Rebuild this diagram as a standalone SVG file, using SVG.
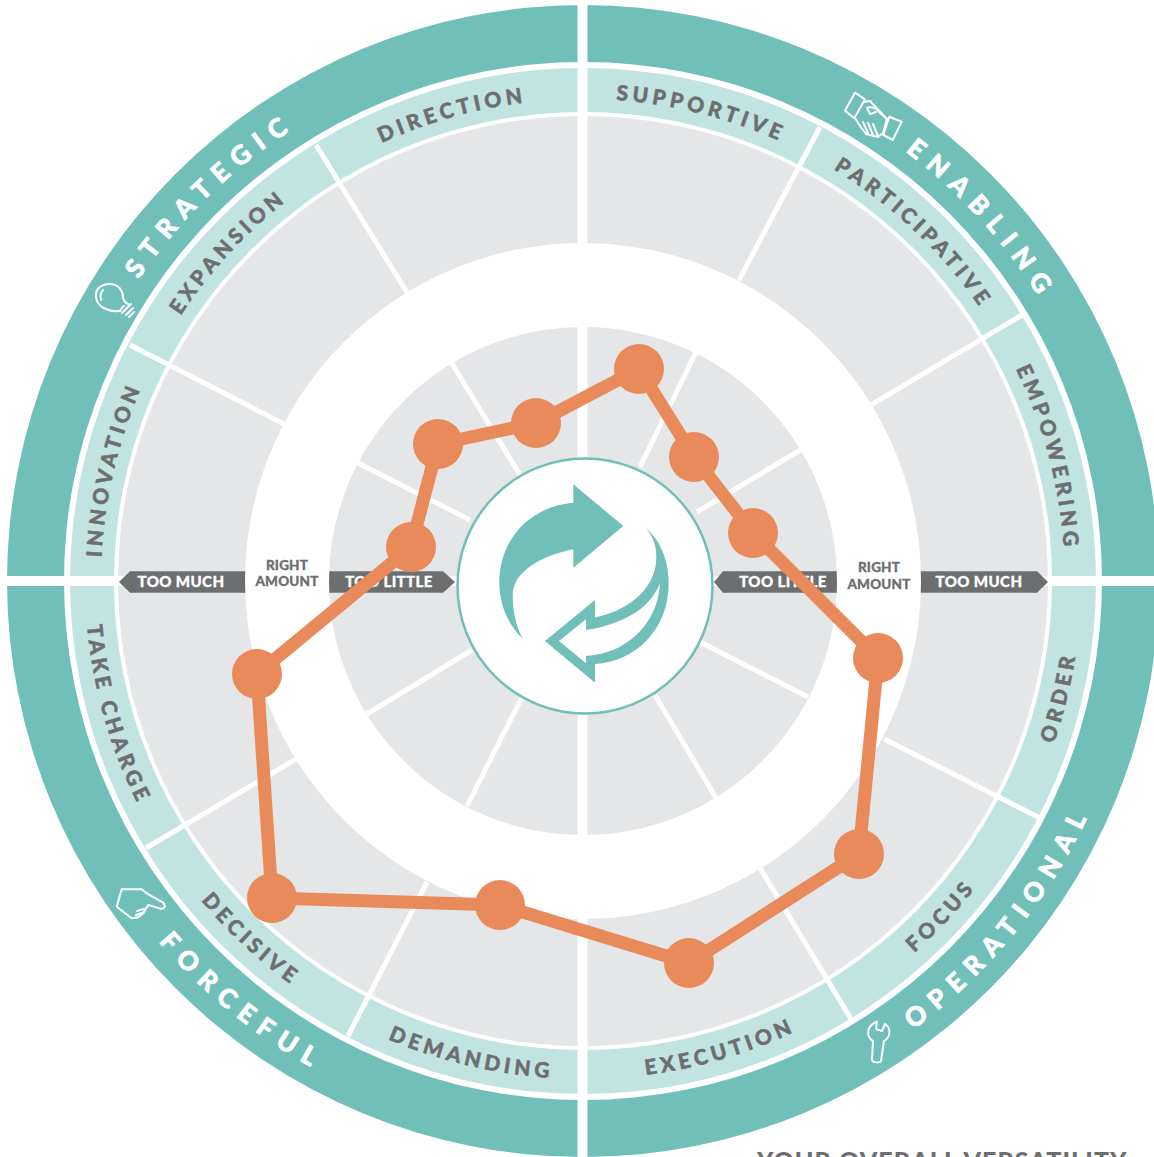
<svg xmlns="http://www.w3.org/2000/svg" xmlns:xlink="http://www.w3.org/1999/xlink" width="1154" height="1157" viewBox="0 0 1154 1157">
<style>
text{font-family:"Lato","Liberation Sans",sans-serif;font-weight:900}
.sub{font-size:21px;letter-spacing:4.2px;fill:#6d6e70;stroke:#6d6e70;stroke-width:.5px;text-anchor:middle}
.big{font-size:26px;letter-spacing:9.4px;fill:#fff;stroke:#fff;stroke-width:.7px;text-anchor:middle}
.bar{fill:#6d6e70}
.bt{font-size:15px;letter-spacing:.4px;fill:#fff;stroke:#fff;stroke-width:.3px;text-anchor:middle}
.ra{font-size:13.5px;letter-spacing:.2px;fill:#6d6e70;stroke:#6d6e70;stroke-width:.3px;text-anchor:middle}
.div{stroke:#fff;stroke-width:5;fill:none}
.ic{fill:none;stroke:#fff;stroke-width:2;stroke-linejoin:round;stroke-linecap:round}
.dot{fill:#e98a5b}
</style>
<defs>
<path id="t484" d="M101,581A482,482 0 0 1 1065,581"/>
<path id="t537" d="M46,581A537,537 0 0 1 1120,581"/>
<path id="b498" d="M85,581A498,498 0 0 0 1081,581"/>
<path id="b557" d="M26,581A557,557 0 0 0 1140,581"/>
</defs>
<rect width="1154" height="1157" fill="#fff"/>
<g id="wheel">
<circle cx="583" cy="581" r="576" fill="#70bfb9"/>
<circle cx="583" cy="581" r="519" fill="#fff"/>
<circle cx="583" cy="581" r="513" fill="#c2e4e1"/>
<circle cx="583" cy="581" r="469" fill="#fff"/>
<circle cx="583" cy="581" r="465" fill="#e5e6e8"/>
<g class="div">
<path d="M739,280L820,127M871,405L1022,315M884,739L1038,817M760,868L851,1019M427,882L348,1036M298,758L146,848M284,424L130,345M408,294L316,145"/>
<path d="M697,350L640,467M802,449L697,512M808,697L700,642M716,798L655,695M522,697L467,806M367,714L472,650M451,362L520,475M358,463L470,520"/>
</g>
<rect x="577.5" y="0" width="10" height="1157" fill="#fff"/>
<rect x="0" y="576" width="1154" height="10" fill="#fff"/>
</g>
<g id="scale">
<path class="bar" d="M119,582L130,571.3H300V592.7H130Z"/>
<path class="bar" d="M455,582L443,571.3H280V592.7H443Z"/>
<path class="bar" d="M714,582L723,571.3H890V592.7H723Z"/>
<path class="bar" d="M1048,582L1037,571.3H870V592.7H1037Z"/>
<circle cx="583" cy="581" r="296" fill="none" stroke="#fff" stroke-width="84"/>
<text class="bt" x="181" y="587">TOO MUCH</text>
<text class="bt" x="389" y="587">TOO LITTLE</text>
<text class="bt" x="783" y="587">TOO LITTLE</text>
<text class="bt" x="979" y="587">TOO MUCH</text>
<text class="ra" x="287" y="570">RIGHT</text>
<text class="ra" x="287" y="586">AMOUNT</text>
<text class="ra" x="879" y="572">RIGHT</text>
<text class="ra" x="879" y="589">AMOUNT</text>
</g>
<g id="labels">
<text class="sub"><textPath xlink:href="#t484" href="#t484" startOffset="625">DIRECTION</textPath></text>
<text class="sub"><textPath xlink:href="#t484" href="#t484" startOffset="360">EXPANSION</textPath></text>
<text class="sub"><textPath xlink:href="#t484" href="#t484" startOffset="112">INNOVATION</textPath></text>
<text class="sub"><textPath xlink:href="#t484" href="#t484" startOffset="876">SUPPORTIVE</textPath></text>
<text class="sub"><textPath xlink:href="#t484" href="#t484" startOffset="1123">PARTICIPATIVE</textPath></text>
<text class="sub"><textPath xlink:href="#t484" href="#t484" startOffset="1389">EMPOWERING</textPath></text>
<text class="sub"><textPath xlink:href="#b498" href="#b498" startOffset="139">TAKE CHARGE</textPath></text>
<text class="sub"><textPath xlink:href="#b498" href="#b498" startOffset="410">DECISIVE</textPath></text>
<text class="sub"><textPath xlink:href="#b498" href="#b498" startOffset="667">DEMANDING</textPath></text>
<text class="sub"><textPath xlink:href="#b498" href="#b498" startOffset="924">EXECUTION</textPath></text>
<text class="sub"><textPath xlink:href="#b498" href="#b498" startOffset="1190">FOCUS</textPath></text>
<text class="sub"><textPath xlink:href="#b498" href="#b498" startOffset="1445">ORDER</textPath></text>
<text class="big"><textPath xlink:href="#t537" href="#t537" startOffset="431">STRATEGIC</textPath></text>
<text class="big"><textPath xlink:href="#t537" href="#t537" startOffset="1292">ENABLING</textPath></text>
<text class="big"><textPath xlink:href="#b557" href="#b557" startOffset="496">FORCEFUL</textPath></text>
<text class="big"><textPath xlink:href="#b557" href="#b557" startOffset="1371">OPERATIONAL</textPath></text>
</g>
<g id="icons">
<g id="icon-bulb" class="ic">
<path d="M120,311C110,312 97,308 96,297C95,288 102,284 110,284C118,284 123,290 123,298C124,302 126,303 128,304"/>
<path d="M120,311C121,309 122,307 124,306M101,300C100,296 100,293 103,290M122,313L131,304M126,315L133,308M129,317L134,312"/>
</g>
<g id="icon-handshake" class="ic">
<path d="M855,92.7L865,99.3L854.3,118.3L845,110.7Z"/>
<path d="M889.3,116.7L901.7,121.7L892.7,140L883.3,135Z"/>
<path d="M864,102L870,101L887,119L883,133L878,137L866,134L860,126L855,118"/>
<path d="M867,108C872,106 877,109 879,112L887,119M867,108L870,114L876,112M868,133L863,122M873,135L868,123M878,136L873,124"/>
</g>
<g id="icon-hand" class="ic">
<path d="M121.7,889.3L141.7,889.3L146.7,893.3L163.3,902.7L165,906.7L161.7,909L148.3,905L145,910L143.3,913.3L138.3,917.3L131.7,918.3L116.7,906.7Z"/>
<path d="M137,911L144,909M136,915L142,913"/>
</g>
<g id="icon-wrench" class="ic">
<path d="M877,1021.5L876,1029L882,1031L885,1024C891,1028 891,1037 884,1041L881,1061C880,1063 873,1063 872,1060L873,1041C866,1037 866,1026 877,1021.5Z"/>
</g>
</g>
<g id="center">
<circle cx="585" cy="586" r="127.5" fill="#fff" stroke="#70bfb9" stroke-width="2.5"/>
<path fill="#70bfb9" d="M573.3,502.7V484.3L623.3,526L573.3,567.7V549.3C540,556 513,572 512.7,595C512.7,610 516,628 523.3,639.3C505,622 499.3,600 499.3,581.7C499.3,540 530,506 573.3,502.7Z"/>
<path fill="#70bfb9" fill-rule="evenodd" d="M545,641L595,600V617.3C630,611 660,585 656,552C656,545 652,535 646,528.3C660,540 668.7,560 668.7,583.3C668.7,630 635,662 595,664V682.7ZM559,641L586,663.3V656C625,654 658,625 660,583C650,610 620,625 586,630V619.3Z"/>
</g>
<g id="connectors">
<path d="M639,369L694,457L753,533L878,658L859,854L689,963L500,905L272,898L257,674L411,547L438,444L536,423Z" fill="none" stroke="#e98a5b" stroke-width="13" stroke-linejoin="round"/>
</g>
<g id="markers">
<circle class="dot" cx="639" cy="369" r="25"/>
<circle class="dot" cx="694" cy="457" r="25"/>
<circle class="dot" cx="753" cy="533" r="25"/>
<circle class="dot" cx="878" cy="658" r="25"/>
<circle class="dot" cx="859" cy="854" r="25"/>
<circle class="dot" cx="689" cy="963" r="25"/>
<circle class="dot" cx="500" cy="905" r="25"/>
<circle class="dot" cx="272" cy="898" r="25"/>
<circle class="dot" cx="257" cy="674" r="25"/>
<circle class="dot" cx="411" cy="547" r="25"/>
<circle class="dot" cx="438" cy="444" r="25"/>
<circle class="dot" cx="536" cy="423" r="25"/>
</g>
<text id="title" x="757" y="1170" font-size="25" letter-spacing="1.1" fill="#6d6e70">YOUR OVERALL VERSATILITY</text>
</svg>
